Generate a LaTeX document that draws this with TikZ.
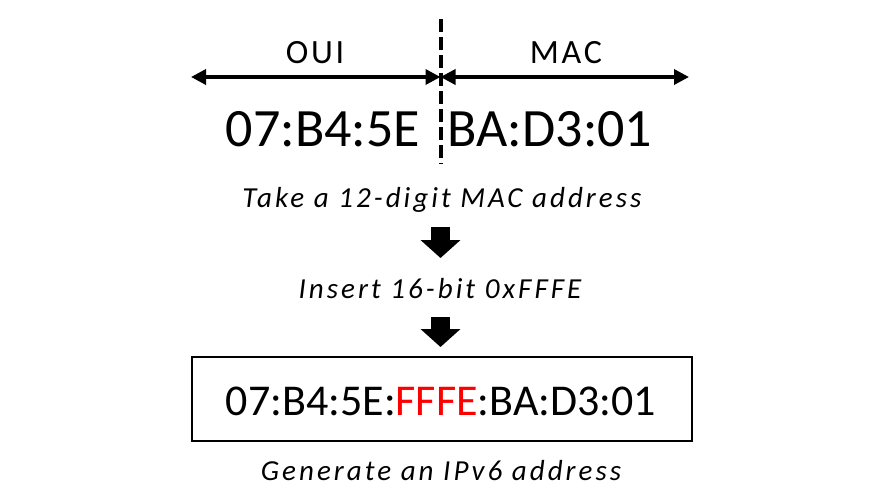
\documentclass[tikz,border=0pt]{standalone}
\usepackage{fontspec}
\setmainfont{Carlito}
\newfontfamily\spacedfont[LetterSpace=8]{Carlito}
\newfontfamily\notefont[LetterSpace=10.5]{Carlito}
\usetikzlibrary{arrows.meta}
\definecolor{hexred}{RGB}{255,0,0}
\tikzset{
  dim/.style={line width=3.5pt,{Triangle[length=15pt,width=15pt]}-{Triangle[length=15pt,width=15pt]}},
  split/.style={line width=4pt,dash pattern=on 13pt off 5pt},
  blk/.style={line width=19pt,-{Triangle[length=18pt,width=39pt]}},
  lab/.style={anchor=base,font=\spacedfont\fontsize{34}{40}\selectfont},
  val/.style={anchor=base,font=\fontsize{54}{60}\selectfont},
  note/.style={anchor=base,font=\notefont\itshape\fontsize{29}{34}\selectfont}
}
\begin{document}
\begin{tikzpicture}[x=1pt,y=-1pt]
 \useasboundingbox (0,0) rectangle (879,498);
 % split line and the two halves
 \coordinate (top) at (440.5,19);
 \coordinate (bot) at (440.5,164);
 \coordinate (left) at (191,77);
 \coordinate (mid) at (440.5,77);
 \coordinate (right) at (689,77);
 \draw[split] (top) -- (bot);
 \draw[dim] (left) -- (mid);
 \draw[dim] (mid) -- (right);
 \node[lab] (oui) at (315,63) {OUI};
 \node[lab] (mac) at (566,63) {MAC};
 \node[val] (ouival) at (323,146) {07:B4:5E};
 \node[val] (macval) at (550,146) {BA:D3:01};
 % steps
 \node[note] (take) at (442,207) {Take a 12-digit MAC address};
 \coordinate (a1) at (440.5,227);
 \coordinate (b1) at (440.5,258);
 \draw[blk] (a1) -- (b1);
 \node[note] (insert) at (440,298) {Insert 16-bit 0xFFFE};
 \coordinate (a2) at (440.5,317);
 \coordinate (b2) at (440.5,347);
 \draw[blk] (a2) -- (b2);
 \draw[line width=2pt] (192,357) rectangle (692,441);
 \node[anchor=base,font=\fontsize{44}{50}\selectfont] (ipv6) at (441,415)
   {07:B4:5E:\textcolor{hexred}{FFFE}:BA:D3:01};
 \node[note] (gen) at (441,480) {Generate an IPv6 address};
\end{tikzpicture}
\end{document}
